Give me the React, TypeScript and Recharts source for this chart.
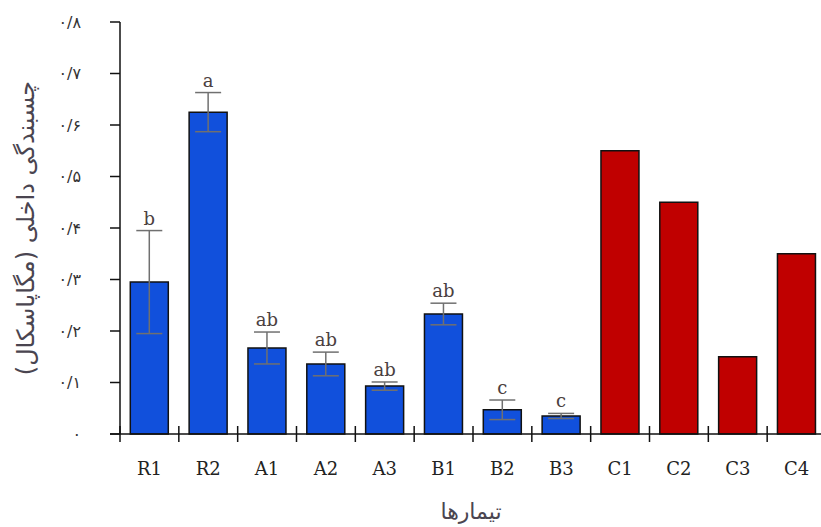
import React from "react";
import { BarChart, Bar, XAxis, YAxis, ErrorBar, Cell, LabelList } from "recharts";

const categories = ["R1", "R2", "A1", "A2", "A3", "B1", "B2", "B3", "C1", "C2", "C3", "C4"];
const means = [0.295, 0.625, 0.167, 0.136, 0.093, 0.233, 0.047, 0.035, 0.55, 0.45, 0.15, 0.35];
const errors = [0.1, 0.038, 0.031, 0.023, 0.008, 0.021, 0.019, 0.005, null, null, null, null];
const letters = ["b", "a", "ab", "ab", "ab", "ab", "c", "c", "", "", "", ""];
const groups = ["R", "R", "A", "A", "A", "B", "B", "B", "C", "C", "C", "C"];
const yTicks = [0, 0.1, 0.2, 0.3, 0.4, 0.5, 0.6, 0.7, 0.8];

const yTitle = "چسبندگی داخلی (مگاپاسکال)";
const xTitle = "تیمارها";

const data = categories.map((name, i) => ({
  name,
  value: means[i],
  err: errors[i],
  letter: letters[i],
  group: groups[i],
}));

const CHART_W = 826;
const CHART_H = 527;
const LEFT = 120;
const HALF_BAND = (CHART_W - LEFT) / categories.length / 2;

const faDigits = "۰۱۲۳۴۵۶۷۸۹";
function toFa(n: number) {
  return String(n).replace(/\d/g, (d) => faDigits[Number(d)]);
}
function formatY(v: number) {
  if (v === 0) return "۰";
  return "۰/" + toFa(Math.round(v * 10));
}

function XTick(props: any) {
  const { x, y, payload, index } = props;
  const bx = x - HALF_BAND;
  return (
    <g>
      {index === 0 && <line x1={bx - 10} y1={y} x2={bx} y2={y} stroke="#111" strokeWidth={1.5} />}
      <line x1={bx} y1={y - 8} x2={bx} y2={y + 8} stroke="#111" strokeWidth={1.5} />
      <text
        x={x}
        y={y + 41}
        textAnchor="middle"
        fontFamily="'DejaVu Serif', serif"
        fontSize={18}
        fill="#222"
      >
        {payload.value}
      </text>
    </g>
  );
}

function LetterLabel(props: any) {
  const { x, y, width, height, value, index } = props;
  const err = errors[index];
  const letter = letters[index];
  if (!letter || err == null || !value) return null;
  const errTop = y - err * (height / value);
  return (
    <text
      x={x + width / 2}
      y={errTop - 6}
      textAnchor="middle"
      fontFamily="'DejaVu Serif', serif"
      fontSize={18}
      fill="#4a4040"
    >
      {letter}
    </text>
  );
}

export default function App() {
  return (
    <div
      style={{
        position: "fixed",
        left: 0,
        top: 0,
        width: 821,
        height: 527,
        overflow: "hidden",
        background: "#fff",
      }}
    >
      <BarChart
        width={CHART_W}
        height={CHART_H}
        data={data}
        margin={{ top: 22, right: 0, left: 0, bottom: 0 }}
        barCategoryGap="17.5%"
      >
        <XAxis
          dataKey="name"
          height={93}
          interval={0}
          tickLine={false}
          tickSize={0}
          tickMargin={0}
          axisLine={{ stroke: "#111", strokeWidth: 1.5 }}
          tick={<XTick />}
          label={{
            content: (p: any) => (
              <text
                x={p.viewBox.x + p.viewBox.width / 2 - 2}
                y={519}
                textAnchor="middle"
                fontFamily="'DejaVu Sans', sans-serif"
                fontSize={22}
                fill="#4a4550"
              >
                {xTitle}
              </text>
            ),
          }}
        />
        <YAxis
          width={LEFT}
          domain={[0, 0.8]}
          ticks={yTicks}
          interval={0}
          tickSize={10}
          tickMargin={29}
          tickFormatter={formatY}
          axisLine={{ stroke: "#111", strokeWidth: 1.5 }}
          tickLine={{ stroke: "#111", strokeWidth: 1.5 }}
          tick={{ fill: "#333", fontSize: 16, fontFamily: "'DejaVu Sans', sans-serif" }}
          label={{
            content: () => (
              <text
                x={34}
                y={228}
                transform="rotate(-90 34 228)"
                textAnchor="middle"
                fontFamily="'DejaVu Sans', sans-serif"
                fontSize={24}
                fill="#4a4550"
              >
                {yTitle}
              </text>
            ),
          }}
        />
        <Bar dataKey="value" stroke="#111" strokeWidth={1.5} isAnimationActive={false}>
          {data.map((d) => (
            <Cell key={d.name} fill={d.group === "C" ? "#C00000" : "#1150DC"} />
          ))}
          <ErrorBar dataKey="err" width={13} stroke="#707070" strokeWidth={1.5} />
          <LabelList dataKey="value" content={<LetterLabel />} />
        </Bar>
      </BarChart>
    </div>
  );
}
